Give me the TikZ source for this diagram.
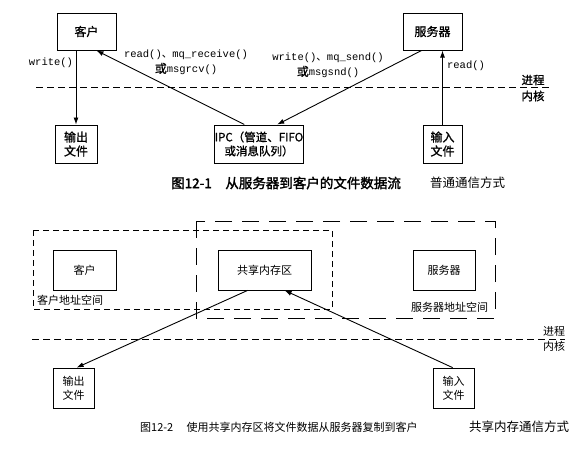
\documentclass[tikz,border=0pt]{standalone}
\usepackage{fontspec}
\setmainfont{Noto Sans CJK SC}
\setmonofont{Liberation Mono}
\newfontfamily\cjk{Noto Sans CJK SC}
\newfontfamily\cjkb[FakeBold=2]{Noto Sans CJK SC}
\newfontfamily\cjkm[FakeBold=1]{Noto Sans CJK SC}
\usetikzlibrary{arrows.meta,calc}
\tikzset{
  box/.style={draw,line width=1pt,inner sep=0pt,align=center,font=\fontsize{12}{14}\selectfont\cjkm},
  lbox/.style={draw,line width=0.8pt,inner sep=0pt,align=center,font=\fontsize{11}{14}\selectfont},
  arr/.style={line width=0.9pt,-{Latex[length=7pt,width=5pt]}},
  mono/.style={font=\fontsize{10.5}{12}\selectfont\ttfamily,inner sep=0pt},
  lbl/.style={font=\fontsize{11}{12}\selectfont,inner sep=0pt},
  sdash/.style={line width=0.8pt,dash pattern=on 6pt off 4pt},
  ldash/.style={line width=0.8pt,dash pattern=on 17pt off 10pt},
  captext/.style={inner sep=0pt}
}
\begin{document}
\begin{tikzpicture}[x=1pt,y=-1pt]
\useasboundingbox (0,0) rectangle (586,461);
% ---------- Figure 12-1 ----------
\node[box,minimum width=59pt,minimum height=37pt] (c1) at (86.5,31.5) {客户};
\node[box,minimum width=59pt,minimum height=37pt] (s1) at (432.5,31.5) {服务器};
\node[box,minimum width=42pt,minimum height=38pt] (o1) at (76,144) {输出\\文件};
\node[box,minimum width=88pt,minimum height=38pt,font=\fontsize{11.5}{14}\selectfont\cjkm] (ipc) at (259,144) {IPC（管道、FIFO\\或消息队列）};
\node[box,minimum width=39pt,minimum height=38pt] (i1) at (442.5,144) {输入\\文件};

\draw[arr] (o1.north |- c1.south) -- (o1.north);
\draw[arr] ([xshift=30pt]ipc.north west) -- ([xshift=40pt]c1.south west);
\draw[arr] ([xshift=19pt]s1.south west) -- ([xshift=63pt]ipc.north west);
\draw[arr] (i1.north) -- (i1.north |- s1.south);

\node[mono] (w1) at (51,63) {write()};
\node[mono] (r1) at (186,55) {read(){\cjk 、}mq\_receive()};
\node[mono] (r2) at (186,69) {{\cjkm\fontsize{12}{12}\selectfont 或}msgrcv()};
\node[mono] (w2) at (328,58) {write(){\cjk 、}mq\_send()};
\node[mono] (w3) at (328,72) {{\cjkm\fontsize{12}{12}\selectfont 或}msgsnd()};
\node[mono] (r3) at (466,66) {read()};

\coordinate (d1a) at (36,87);
\coordinate (d1b) at (550,87);
\draw[line width=0.8pt,dash pattern=on 7pt off 4pt] (d1a) -- (d1b);
\node[lbl,font=\fontsize{11.5}{12}\selectfont\cjkm] (p1) at (533,80) {进程};
\node[lbl,font=\fontsize{11.5}{12}\selectfont\cjkm] (k1) at (533,96) {内核};

\node[captext,font=\fontsize{13.5}{15}\selectfont\cjkb,anchor=west] (cap1) at (171,183) {图12-1\hspace{1em}从服务器到客户的文件数据流};
\node[captext,font=\fontsize{12.5}{14}\selectfont,anchor=west] (cap1b) at (430,183) {普通通信方式};

% ---------- Figure 12-2 ----------
\draw[sdash] (33,230) rectangle (332,309);
\draw[ldash] (196,221) rectangle (495,318);
\node[lbox,minimum width=63pt,minimum height=40pt] (c2) at (84.5,270) {客户};
\node[lbox,minimum width=93pt,minimum height=40pt] (shm) at (264.5,270) {共享内存区};
\node[lbox,minimum width=62pt,minimum height=40pt] (s2) at (444,270) {服务器};
\node[lbl,anchor=west] (ca) at (37,300) {客户地址空间};
\node[lbl,anchor=west] (sa) at (411,307) {服务器地址空间};

\coordinate (d2a) at (32,339);
\coordinate (d2b) at (565,339);
\draw[line width=0.8pt,dash pattern=on 7pt off 4pt] (d2a) -- (d2b);
\node[lbl] (p2) at (554,331) {进程};
\node[lbl] (k2) at (554,346) {内核};

\node[lbox,minimum width=41pt,minimum height=40pt] (o2) at (73.5,388) {输出\\文件};
\node[lbox,minimum width=41pt,minimum height=40pt] (i2) at (453.5,388) {输入\\文件};

\draw[arr] ([xshift=30pt]shm.south west) -- ([xshift=24pt]o2.north west);
\draw[arr] ([xshift=20pt]i2.north west) -- ([xshift=67pt]shm.south west);

\node[captext,font=\fontsize{11}{13}\selectfont,anchor=west] (cap2) at (140,427) {图12-2\hspace{1.2em}使用共享内存区将文件数据从服务器复制到客户};
\node[captext,font=\fontsize{12.5}{14}\selectfont,anchor=west] (cap2b) at (469,427) {共享内存通信方式};
\end{tikzpicture}
\end{document}
